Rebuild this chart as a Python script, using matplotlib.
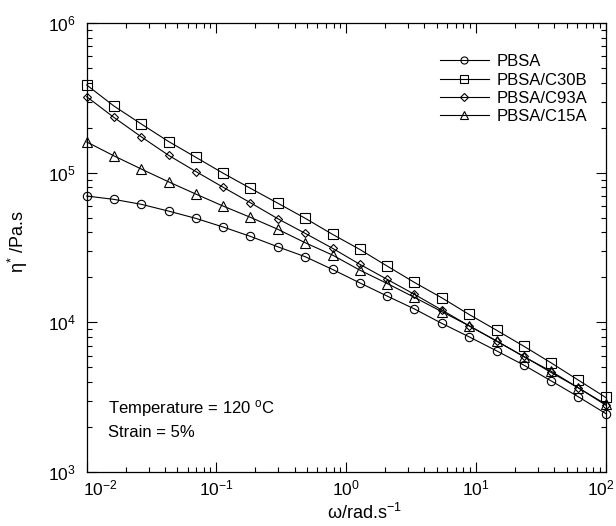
import matplotlib
matplotlib.use("Agg")
import matplotlib.pyplot as plt
from matplotlib.ticker import LogLocator, FixedLocator, NullFormatter
from matplotlib.transforms import ScaledTranslation

plt.rcParams['font.family'] = ['Liberation Sans', 'DejaVu Sans']
plt.rcParams['mathtext.default'] = 'regular'
plt.rcParams['axes.unicode_minus'] = False

# angular frequency (rad/s)
omega = [0.01, 0.0162, 0.0264, 0.0428, 0.0695, 0.113, 0.183, 0.298, 0.483, 0.785,
         1.27, 2.07, 3.36, 5.46, 8.86, 14.4, 23.4, 37.9, 61.6, 100]

# complex viscosity (Pa.s)
eta_pbsa = [70000, 66500, 61600, 55500, 49600, 43400, 37600, 32000, 27500, 22600,
            18400, 15000, 12300, 9850, 8010, 6460, 5180, 4070, 3180, 2460]
eta_c30b = [387000, 280000, 212000, 162000, 127000, 99300, 78800, 62600, 49700, 38800,
            30800, 23800, 18500, 14600, 11300, 8870, 6930, 5370, 4110, 3150]
eta_c93a = [323000, 235000, 174000, 131000, 102000, 80000, 63100, 49300, 39400, 31300,
            24500, 19400, 15400, 12100, 9490, 7500, 5930, 4630, 3650, 2800]
eta_c15a = [161000, 130000, 106000, 87100, 72100, 59900, 50400, 41900, 34100, 28200,
            22400, 18200, 14700, 11800, 9490, 7530, 5890, 4720, 3650, 2840]

x_major = [0.01, 0.1, 1, 10, 100]
y_major = [1e3, 1e4, 1e5, 1e6]

series = [
    ("PBSA", eta_pbsa, "o", 6.0),
    ("PBSA/C30B", eta_c30b, "s", 7.0),
    ("PBSA/C93A", eta_c93a, "D", 4.3),
    ("PBSA/C15A", eta_c15a, "^", 7.0),
]

fig = plt.figure(figsize=(6.16, 5.26), dpi=100)
ax = fig.add_axes([0.1407, 0.1027, 0.8426, 0.853])

for label, vals, mk, ms in series:
    ax.plot(omega, vals, color='black', lw=0.8, marker=mk, ms=ms,
            mfc='none', mec='black', mew=0.8, label=label, clip_on=False, zorder=3)

ax.set_xscale('log')
ax.set_yscale('log')
ax.set_xlim(0.01, 100)
ax.set_ylim(1e3, 1e6)

ax.xaxis.set_major_locator(FixedLocator(x_major))
ax.yaxis.set_major_locator(FixedLocator(y_major))
for axis in (ax.xaxis, ax.yaxis):
    axis.set_minor_locator(LogLocator(base=10, subs=range(2, 10), numticks=20))
    axis.set_minor_formatter(NullFormatter())

ax.tick_params(which='both', direction='in', top=True, right=True, width=0.8,
               labelsize=12.5, color='black')
ax.tick_params(which='major', length=7)
ax.tick_params(which='minor', length=3.5)
ax.tick_params(axis='x', which='major', pad=5)
ax.tick_params(axis='y', which='major', pad=8)
for sp in ax.spines.values():
    sp.set_linewidth(0.9)

# nudge the end labels of the frequency axis inside the figure
xticks = ax.xaxis.get_major_ticks()
for tick, dx in ((xticks[0], 9.5), (xticks[-1], -3.6)):
    lbl = tick.label1
    lbl.set_transform(lbl.get_transform() + ScaledTranslation(dx / 72, 0, fig.dpi_scale_trans))

ax.set_xlabel(r'ω/rad.s$^{-1}$', fontsize=13)
ax.xaxis.set_label_coords(0.536, -0.068)
ax.set_ylabel(r'η$^{*}$ /Pa.s', fontsize=13)
ax.yaxis.set_label_coords(-0.11, 0.513)

leg = ax.legend(loc='upper left', bbox_to_anchor=(0.68, 0.931), frameon=False,
                fontsize=12, handlelength=2.95, handletextpad=0.46,
                labelspacing=0.2, borderpad=0, borderaxespad=0, markerscale=0.85)

ax.text(0.041, 0.141, r'Temperature = 120 $^{o}$C', transform=ax.transAxes,
        fontsize=12, va='center', ha='left')
ax.text(0.041, 0.0876, 'Strain = 5%', transform=ax.transAxes,
        fontsize=12, va='center', ha='left')

fig.savefig('out.png', dpi=100)
